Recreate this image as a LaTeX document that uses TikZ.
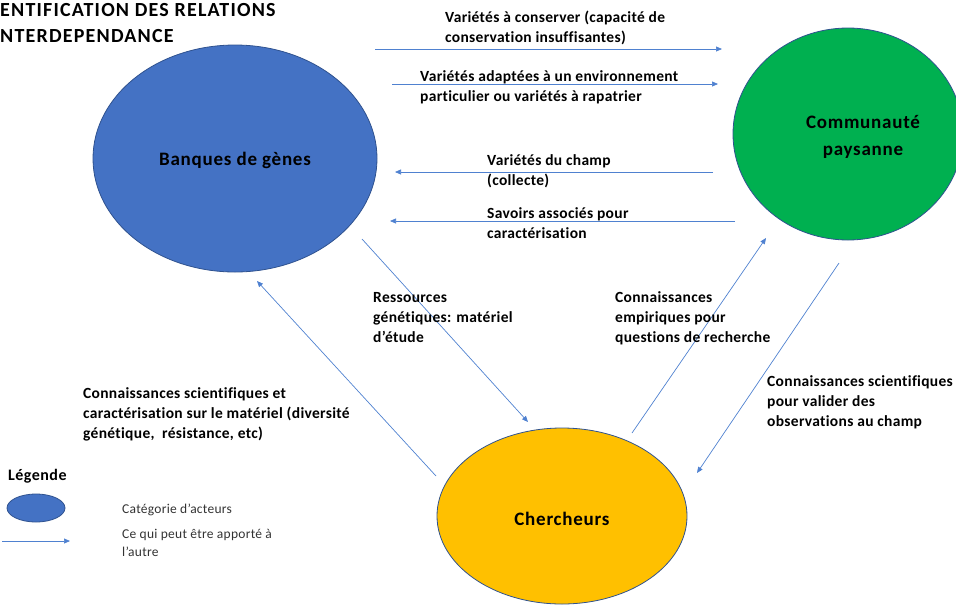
\documentclass[tikz,border=0pt]{standalone}
\usepackage{fontspec}
\setmainfont[Ligatures=NoCommon]{Carlito}
\usetikzlibrary{arrows.meta,shapes.geometric}
\definecolor{actblue}{HTML}{4472C4}
\definecolor{actgreen}{HTML}{00B050}
\definecolor{actorange}{HTML}{FFC000}
\definecolor{edgeblue}{HTML}{2F528F}
\definecolor{arrowblue}{HTML}{4F81D0}
\tikzset{
  actor/.style={ellipse, draw=edgeblue, line width=0.8pt, inner sep=0pt},
  actorlabel/.style={inner sep=0pt, align=center,
    font=\bfseries\fontsize{19}{27}\selectfont\addfontfeature{LetterSpace=4}},
  conn/.style={draw=arrowblue, line width=0.7pt, -{Triangle[length=6pt,width=5pt]}},
  lbl/.style={anchor=north west, inner sep=0pt, align=left,
    font=\bfseries\fontsize{15.5}{20}\selectfont\addfontfeature{LetterSpace=2}},
  legtext/.style={anchor=north west, inner sep=0pt, align=left,
    font=\fontsize{13.5}{18}\selectfont\addfontfeature{LetterSpace=2}, text=black!80},
  titletext/.style={anchor=north west, inner sep=0pt, align=left,
    font=\bfseries\fontsize{20}{26}\selectfont\addfontfeature{LetterSpace=6}}
}
\begin{document}
\begin{tikzpicture}[x=1pt,y=-1pt]
\useasboundingbox (0,0) rectangle (956,606);

% title
\node[titletext] (title) at (0,3.5) {ENTIFICATION DES RELATIONS\\NTERDEPENDANCE};

% actors
\node[actor, fill=actblue, minimum width=284pt, minimum height=227pt] (bg) at (235,158.5) {};
\node[actorlabel] (bgt) at (235,160) {Banques de gènes};
\node[actor, fill=actgreen, minimum width=230pt, minimum height=212pt] (cp) at (848,134) {};
\node[actorlabel] (cpt) at (863,137) {Communauté\\paysanne};
\node[actor, fill=actorange, minimum width=250pt, minimum height=176pt] (ch) at (562,516) {};
\node[actorlabel] (cht) at (562,519) {Chercheurs};

% coordinates for connectors
\coordinate (a1s) at (375,49);  \coordinate (a1e) at (722,49);
\coordinate (a2s) at (392,84);  \coordinate (a2e) at (718,84);
\coordinate (a3s) at (713,172); \coordinate (a3e) at (395,172);
\coordinate (a4s) at (735,221); \coordinate (a4e) at (390,221);
\coordinate (a5s) at (362,239); \coordinate (a5e) at (528,422);
\coordinate (a6s) at (436,476); \coordinate (a6e) at (257,281);
\coordinate (a7s) at (632,433); \coordinate (a7e) at (766,238);
\coordinate (a8s) at (839,263); \coordinate (a8e) at (697,473);

\draw[conn] (a1s) -- (a1e);
\draw[conn] (a2s) -- (a2e);
\draw[conn] (a3s) -- (a3e);
\draw[conn] (a4s) -- (a4e);
\draw[conn] (a5s) -- (a5e);
\draw[conn] (a6s) -- (a6e);
\draw[conn] (a7s) -- (a7e);
\draw[conn] (a8s) -- (a8e);

% labels
\node[lbl] (l1) at (445,11) {Variétés à conserver (capacité de\\conservation insuffisantes)};
\node[lbl] (l2) at (420,70) {Variétés adaptées à un environnement\\particulier ou variétés à rapatrier};
\node[lbl] (l3) at (487,154) {Variétés du champ\\(collecte)};
\node[lbl] (l4) at (487,207) {Savoirs associés pour\\caractérisation};
\node[lbl] (l5) at (373,292) {Ressources\\génétiques: matériel\\d’étude};
\node[lbl] (l6) at (83,387) {Connaissances scientifiques et\\caractérisation sur le matériel (diversité\\génétique, \ résistance, etc)};
\node[lbl] (l7) at (615,291) {Connaissances\\empiriques pour\\questions de recherche};
\node[lbl] (l8) at (767,375) {Connaissances scientifiques\\pour valider des\\observations au champ};

% legend
\node[anchor=north west, inner sep=0pt, font=\bfseries\fontsize{16}{20}\selectfont\addfontfeature{LetterSpace=3}] (leg) at (8,469) {Légende};
\node[actor, fill=actblue, minimum width=58pt, minimum height=28pt] (legell) at (36,508) {};
\coordinate (lgs) at (2,541); \coordinate (lge) at (70,541);
\draw[conn] (lgs) -- (lge);
\node[legtext] (lt1) at (122,504) {Catégorie d’acteurs};
\node[legtext] (lt2) at (122,529) {Ce qui peut être apporté à\\l’autre};
\end{tikzpicture}
\end{document}
